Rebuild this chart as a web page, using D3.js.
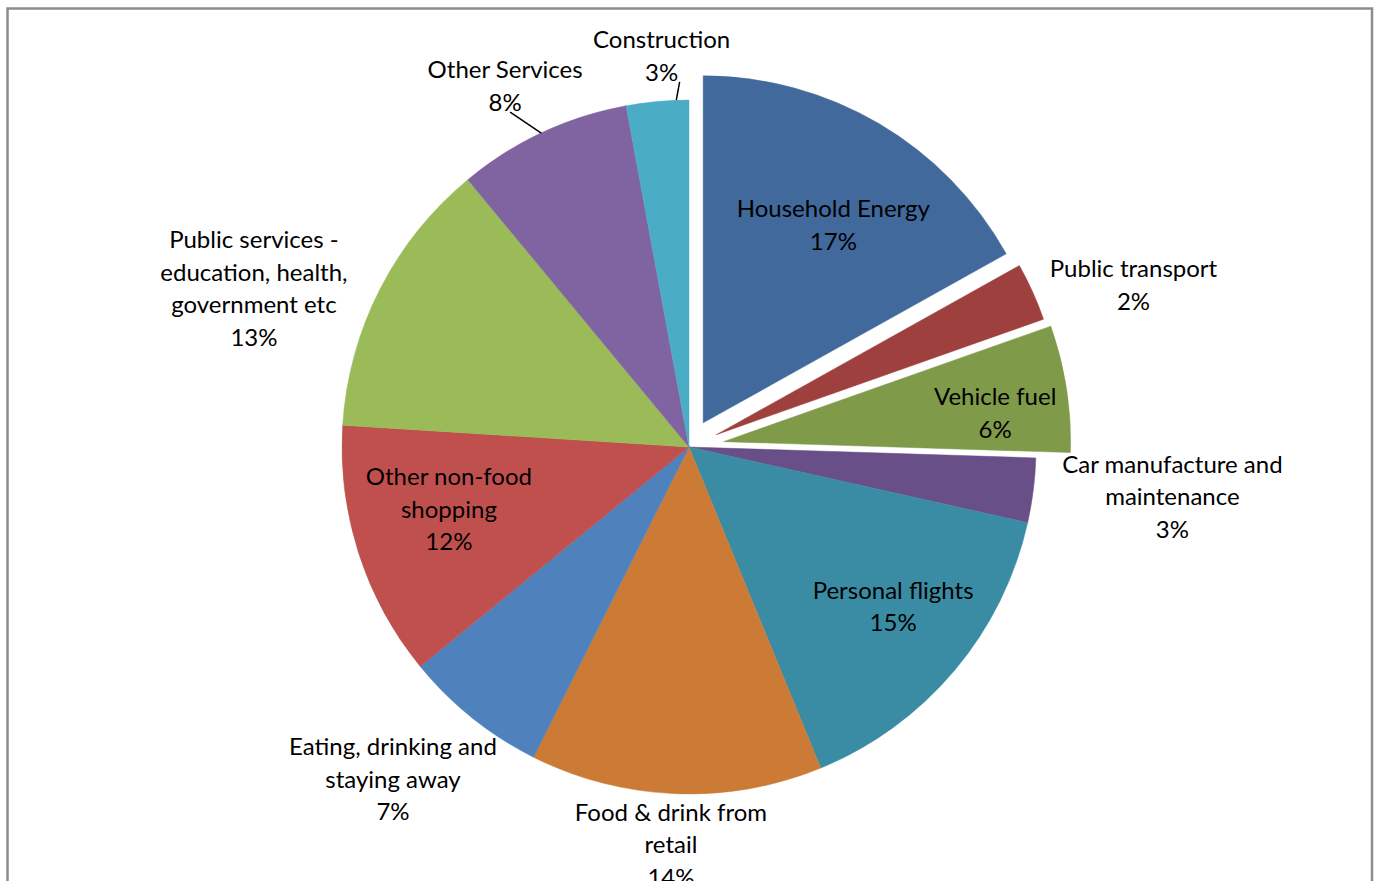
<!DOCTYPE html>
<html>
<head>
<meta charset="utf-8">
<script src="https://cdn.jsdelivr.net/npm/d3@7"></script>
<style>
	html, body { margin: 0; padding: 0; background: #fff; }
	svg { display: block; }
	.lbl { font-family: Lato, 'Open Sans', sans-serif; font-size: 24px; fill: #000; }
</style>
</head>
<body>
<svg id="chart" width="1377" height="881"></svg>
<script>
// categories, clockwise from 12 o'clock
let categories = [
	'Household Energy',
	'Public transport',
	'Vehicle fuel',
	'Car manufacture and|maintenance',
	'Personal flights',
	'Food & drink from|retail',
	'Eating, drinking and|staying away',
	'Other non-food|shopping',
	'Public services -|education, health,|government etc',
	'Other Services',
	'Construction'
];
// share of footprint (%)
let values = [16.9, 2.7, 5.9, 3.0, 15.3, 13.6, 6.7, 11.9, 13.0, 8.1, 2.9];
// data label text as printed on the chart
let pctLabels = ['17%', '2%', '6%', '3%', '15%', '14%', '7%', '12%', '13%', '8%', '3%'];
let colors = ['#41699b', '#9e403e', '#7f9b4a', '#694f87', '#3a8ca4', '#cc7b37',
	'#4f81bd', '#c0504d', '#9bbb59', '#8064a2', '#4bacc6'];
// exploded slices, pixels pushed out along the mid angle
let explode = [28, 30, 35, 0, 0, 0, 0, 0, 0, 0, 0];
// label placement: [angle in degrees from 12 o'clock, distance from pie centre]
let labelPolar = [[33, 265], [70, 473], [83.7, 308], [95.9, 486], [128, 259], [182.6, 398],
	[221.7, 445], [255.5, 248], [290, 463], [333, 405], [356, 392]];
// leader lines for the outside labels: [start dx, start dy from label anchor, angle hit on the rim]
let leaders = {9: [5, 26, 334.8], 10: [18, 26, 357.9]};

/*global d3*/
let svg = d3.select('#chart');
let height = +svg.attr('height');
let cx = 689;
let cy = 447;
let radius = 347;
let lineH = 32.5;

// chart area frame
svg.append('rect')
	.attr('x', 7.5)
	.attr('y', 8.5)
	.attr('width', 1364.5)
	.attr('height', height + 40)
	.attr('fill', 'none')
	.attr('stroke', '#8c8c8c')
	.attr('stroke-width', 2.5);

let pie = d3.pie()
	.sort(null)
	.value(d => d)
	.startAngle(0)
	.endAngle(2 * Math.PI);

let arc = d3.arc()
	.innerRadius(0)
	.outerRadius(radius);

let arcs = pie(values);

let g = svg.append('g')
	.attr('transform', `translate(${cx},${cy})`);

g.selectAll('path.slice')
	.data(arcs)
	.enter().append('path')
	.attr('class', 'slice')
	.attr('transform', (d, i) => {
		let mid = (d.startAngle + d.endAngle) / 2;
		let off = explode[i];
		return `translate(${off * Math.sin(mid)},${-off * Math.cos(mid)})`;
	})
	.attr('d', arc)
	.attr('fill', (d, i) => colors[i])
	.attr('stroke', (d, i) => colors[i])
	.attr('stroke-width', 0.5);

function polar(a, r) {
	let rad = a * Math.PI / 180;
	return [r * Math.sin(rad), -r * Math.cos(rad)];
}

// leader lines
Object.keys(leaders).forEach(k => {
	let i = +k;
	let p = polar(labelPolar[i][0], labelPolar[i][1]);
	let end = polar(leaders[i][2], radius);
	g.append('line')
		.attr('x1', p[0] + leaders[i][0])
		.attr('y1', p[1] + leaders[i][1])
		.attr('x2', end[0])
		.attr('y2', end[1])
		.attr('stroke', '#000')
		.attr('stroke-width', 1.5);
});

// data labels: category name lines + percentage
let labels = g.selectAll('text.lbl')
	.data(arcs)
	.enter().append('text')
	.attr('class', 'lbl')
	.attr('text-anchor', 'middle')
	.attr('transform', (d, i) => {
		let p = polar(labelPolar[i][0], labelPolar[i][1]);
		return `translate(${p[0]},${p[1]})`;
	});

labels.selectAll('tspan')
	.data((d, i) => categories[i].split('|').concat([pctLabels[i]]))
	.enter().append('tspan')
	.attr('x', 0)
	.attr('y', (t, j, nodes) => (j - (nodes.length - 1) / 2) * lineH + 8.5)
	.text(t => t);
</script>
</body>
</html>
